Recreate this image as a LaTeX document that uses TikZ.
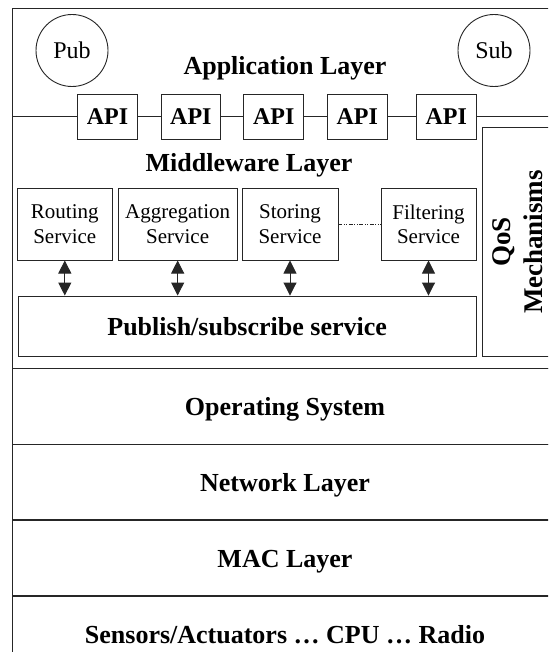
\documentclass[tikz,border=0pt]{standalone}
\usepackage{fontspec}
\setmainfont{Liberation Serif}
\usetikzlibrary{arrows.meta}

\tikzset{
  ln/.style={line width=0.9pt, draw=black!85},
  box/.style={ln, rectangle, inner sep=0pt, fill=white},
  title/.style={font=\fontsize{26}{30}\selectfont\bfseries},
  flat/.style={text height=18pt, text depth=0pt},
  layer/.style={box, minimum width=545.4pt, minimum height=75.7pt, title, flat},
  apibox/.style={box, minimum width=59.6pt, minimum height=45pt, font=\fontsize{24}{28}\selectfont\bfseries},
  svc/.style={box, minimum height=71.7pt, align=center, font=\fontsize{21}{24.7}\selectfont},
  actor/.style={ln, circle, minimum size=72pt, inner sep=0pt, font=\fontsize{24}{28}\selectfont},
  link/.style={ln, {Triangle[width=13pt,length=13pt]}-{Triangle[width=13pt,length=13pt]}},
  chain/.style={ln, dash pattern=on 4pt off 1.5pt on 1pt off 1.5pt on 1pt off 1.5pt},
}

\begin{document}
\begin{tikzpicture}[x=1pt, y=-1pt]
  \useasboundingbox (0,0) rectangle (548,652);
  \clip (0,0) rectangle (548,652);

  % upper frame: application + middleware
  \node[box, minimum width=545.4pt, minimum height=360pt] (upper) at (285,188.3) {};

  % application layer
  \node[actor] (pub) at (72,50.5) {Pub};
  \node[actor] (sub) at (494,50.5) {Sub};
  \node[title, anchor=base] (applbl) at (285,75) {Application Layer};

  % API bus
  \coordinate (busL) at (12.3,116.5);
  \coordinate (busR) at (557.7,116.5);
  \node[apibox] (api1) at (107.5,116.5) {API};
  \node[apibox] (api2) at (190.85,116.5) {API};
  \node[apibox] (api3) at (273.7,116.5) {API};
  \node[apibox] (api4) at (357.25,116.5) {API};
  \node[apibox] (api5) at (446.3,116.5) {API};
  \draw[ln] (busL) -- (api1) -- (api2) -- (api3) -- (api4) -- (api5) -- (busR);

  % middleware layer
  \node[title, anchor=base] (mwlbl) at (249,171.7) {Middleware Layer};
  \node[svc, minimum width=95pt]    (rout) at (64.8,224.2)   {Routing\\Service};
  \node[svc, minimum width=118.7pt] (aggr) at (177.65,224.2) {Aggregation\\Service};
  \node[svc, minimum width=96pt]    (stor) at (290,224.2)    {Storing\\Service};
  \node[svc, minimum width=95pt]    (filt) at (428.5,224.2)  {Filtering\\Service};
  \draw[chain] (stor) -- (filt);

  \node[box, title, flat, minimum width=457.7pt, minimum height=60pt] (ps) at (247.15,326) {Publish/subscribe service};
  \foreach \s in {rout,aggr,stor,filt}
    \draw[link] (\s.south) -- (\s.south |- ps.north);

  % QoS column
  \node[box, rotate=90, align=center, minimum width=229pt, minimum height=72pt,
        font=\fontsize{27}{32}\selectfont\bfseries] (qos) at (518,242) {QoS\\Mechanisms};

  % lower layers
  \node[layer] (os)  at (285,406.15) {Operating System};
  \node[layer] (net) at (285,482)    {Network Layer};
  \node[layer] (mac) at (285,558)    {MAC Layer};
  \node[layer] (hw)  at (285,634)    {Sensors/Actuators … CPU … Radio};
\end{tikzpicture}
\end{document}
